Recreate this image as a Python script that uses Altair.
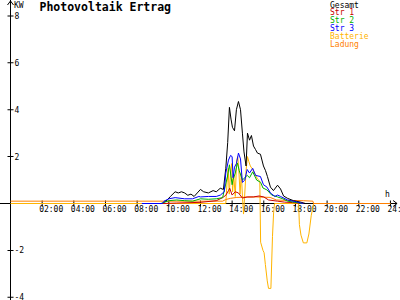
import altair as alt
import pandas as pd

# ---------------- data (hours of day, kW) ----------------
GESAMT_H = [9.6, 9.7, 9.9, 10.1, 10.4, 10.6, 10.8, 11.0, 11.2, 11.4, 11.6, 11.8, 12.0, 12.2, 12.5,
            12.8, 13.0, 13.25, 13.45, 13.6, 13.72, 13.83, 13.93, 14.02, 14.15, 14.27, 14.40, 14.53,
            14.65, 14.75, 14.88, 14.97, 15.1, 15.22, 15.35, 15.48, 15.6, 15.79, 15.98, 16.11, 16.23,
            16.42, 16.61, 16.87, 17.06, 17.25, 17.5, 17.88, 18.32, 18.64]
GESAMT_V = [0.0, 0.05, 0.15, 0.3, 0.5, 0.45, 0.5, 0.45, 0.35, 0.4, 0.3, 0.45, 0.6, 0.5, 0.45,
            0.55, 0.5, 0.65, 0.6, 1.5, 2.6, 4.1, 3.6, 3.25, 3.1, 4.0, 4.35, 4.0,
            3.0, 2.2, 1.6, 3.0, 2.7, 2.9, 2.45, 2.3, 2.15, 2.1, 1.6, 1.4, 1.15,
            0.7, 0.55, 0.78, 0.62, 0.32, 0.22, 0.12, 0.06, 0.0]

STR1_H = [9.6, 10.5, 12.0, 13.0, 13.4, 13.6, 13.77, 13.85, 14.0, 14.2, 14.4, 14.65, 14.95, 15.35,
          15.7, 16.0, 16.3, 16.87, 17.3, 17.8, 18.5]
STR1_V = [0.0, 0.02, 0.05, 0.12, 0.25, 0.35, 0.55, 0.65, 0.36, 0.5, 0.45, 0.23, 0.28, 0.28,
          0.32, 0.28, 0.15, 0.1, 0.06, 0.04, 0.0]

STR2_H = [9.5, 9.7, 10.0, 10.5, 11.0, 11.5, 12.0, 12.5, 13.0, 13.4, 13.7, 13.83, 14.0, 14.05, 14.2,
          14.33, 14.45, 14.65, 14.95, 15.1, 15.3, 15.55, 15.8, 15.95, 16.2, 16.5, 16.87, 17.2, 17.5,
          18.2, 18.4]
STR2_V = [0.0, 0.05, 0.12, 0.15, 0.12, 0.1, 0.2, 0.18, 0.2, 0.25, 1.13, 1.65, 0.8, 1.0, 1.3,
          1.73, 1.4, 1.0, 1.2, 1.1, 1.35, 1.0, 0.9, 0.66, 0.58, 0.36, 0.28, 0.2, 0.1,
          0.03, 0.0]

STR3_H = [8.3, 9.6, 9.7, 10.0, 10.4, 11.0, 11.5, 11.9, 12.0, 12.5, 13.0, 13.26, 13.5, 13.6, 13.77,
          13.9, 14.0, 14.06, 14.15, 14.27, 14.40, 14.53, 14.65, 14.8, 14.95, 15.1, 15.3, 15.48,
          15.79, 15.98, 16.2, 16.42, 16.7, 16.87, 17.06, 17.5, 18.0, 18.5]
STR3_V = [0.0, 0.0, 0.1, 0.2, 0.25, 0.2, 0.2, 0.3, 0.28, 0.3, 0.3, 0.36, 0.5, 1.3, 1.85,
          2.05, 2.0, 1.1, 1.55, 1.7, 2.15, 1.9, 0.9, 1.0, 1.45, 1.3, 1.5, 1.2,
          1.15, 0.8, 0.7, 0.45, 0.3, 0.36, 0.3, 0.15, 0.08, 0.0]

BATT_H = [0.0, 13.6, 13.68, 13.75, 13.82, 13.9, 13.97, 14.03, 14.1, 14.2, 14.28, 14.35, 14.42, 14.5,
          14.58, 14.66, 14.72, 14.78, 14.88, 14.97, 15.05, 15.15, 15.3, 15.45, 15.6, 15.75, 15.8,
          15.95, 16.02, 16.1, 16.22, 16.3, 16.45, 16.55, 16.62, 16.68, 18.2, 18.25, 18.35, 18.5,
          18.72, 18.85, 19.0, 19.15, 24.0]
BATT_V = [0.0, 0.0, 0.9, 1.5, 0.4, 1.3, 1.7, 0.5, 1.2, 0.3, 1.8, 2.0, 1.5, 0.4,
          1.3, 0.2, -0.45, 0.2, 1.4, 2.0, 1.8, 1.6, 1.45, 1.25, 1.05, 0.95, -1.65,
          -2.0, -2.1, -2.6, -3.3, -3.62, -3.62, -1.4, -0.4, 0.0, 0.0, -0.9, -1.35, -1.68,
          -1.68, -1.3, -0.5, 0.0, 0.0]

LADUNG_H = [0.0, 13.4, 13.6, 13.9, 14.3, 15.5, 16.4, 16.8, 17.5, 18.5, 19.1, 19.15, 24.0]
LADUNG_V = [0.1, 0.1, 0.17, 0.22, 0.26, 0.28, 0.26, 0.15, 0.13, 0.12, 0.1, 0.0, 0.0]

Y_TICKS = [8, 6, 4, 2, -2, -4]
X_TICKS = [2, 4, 6, 8, 10, 12, 14, 16, 18, 20, 22, 24]
X_LABELS = ["02:00", "04:00", "06:00", "08:00", "10:00", "12:00", "14:00", "16:00",
            "18:00", "20:00", "22:00", "24:00"]

TITLE = "Photovoltaik Ertrag"
LEGEND_NAMES = ["Gesamt", "Str 1", "Str 2", "Str 3", "Batterie", "Ladung"]
LEGEND_COLORS = ["#000000", "#c80000", "#00b000", "#0000ff", "#ffb400", "#ff8000"]

X_DOMAIN = [-0.6633, 24.605]
Y_DOMAIN = [-4.115, 8.678]
X_AXIS_END = 24.42
Y_AXIS_TOP = 8.635

FONT = "DejaVu Sans Mono"

xs = alt.Scale(domain=X_DOMAIN, nice=False, zero=False)
ys = alt.Scale(domain=Y_DOMAIN, nice=False, zero=False)


def X(f="h"):
    return alt.X(f"{f}:Q", scale=xs, axis=None)


def Y(f="v"):
    return alt.Y(f"{f}:Q", scale=ys, axis=None)


def line(h, v, color):
    df = pd.DataFrame({"h": h, "v": v, "i": list(range(len(h)))})
    return alt.Chart(df).mark_line(color=color, strokeWidth=1).encode(
        x=X(), y=Y(), order=alt.Order("i:Q"))


yaxis = alt.Chart(pd.DataFrame({"h": [0.0], "v": [Y_DOMAIN[0]], "v2": [Y_DOMAIN[1]]})).mark_rule(
    color="black", strokeWidth=1).encode(x=X(), y=Y(), y2="v2:Q")
xaxis = alt.Chart(pd.DataFrame({"h": [X_DOMAIN[0]], "h2": [X_AXIS_END], "v": [0.0]})).mark_rule(
    color="black", strokeWidth=1).encode(x=X(), x2="h2:Q", y=Y())

ytick_df = pd.DataFrame({"h": [0.0] * len(Y_TICKS), "v": Y_TICKS, "t": [str(t) for t in Y_TICKS]})
yticks = alt.Chart(ytick_df).mark_tick(orient="horizontal", size=6, thickness=1, color="black",
                                       opacity=1).encode(x=X(), y=Y())
ylabels = alt.Chart(ytick_df).mark_text(font=FONT, fontSize=8, align="left", baseline="alphabetic",
                                        dx=4, dy=3, color="black").encode(x=X(), y=Y(), text="t:N")

xtick_df = pd.DataFrame({"h": X_TICKS, "v": [0.0] * len(X_TICKS), "t": X_LABELS})
xticks = alt.Chart(xtick_df).mark_tick(orient="vertical", size=6, thickness=1, color="black",
                                       opacity=1).encode(x=X(), y=Y())
xlabels = alt.Chart(xtick_df).mark_text(font=FONT, fontSize=8, align="left", baseline="alphabetic",
                                        dx=-3, dy=8, color="black").encode(x=X(), y=Y(), text="t:N")

yarrow = alt.Chart(pd.DataFrame({"h": [0.0], "v": [Y_AXIS_TOP]})).mark_point(
    shape="M-1,1.33L0,0L1,1.33", size=36, filled=False, color="black", strokeWidth=1,
    opacity=1).encode(x=X(), y=Y())
xarrow = alt.Chart(pd.DataFrame({"h": [X_AXIS_END], "v": [0.0]})).mark_point(
    shape="M-1.33,-1L0,0L-1.33,1", size=36, filled=False, color="black", strokeWidth=1,
    opacity=1).encode(x=X(), y=Y())

layers = [yaxis, xaxis, yticks, xticks, ylabels, xlabels,
          line(BATT_H, BATT_V, LEGEND_COLORS[4]),
          line(LADUNG_H, LADUNG_V, LEGEND_COLORS[5]),
          line(GESAMT_H, GESAMT_V, LEGEND_COLORS[0]),
          line(STR1_H, STR1_V, LEGEND_COLORS[1]),
          line(STR2_H, STR2_V, LEGEND_COLORS[2]),
          line(STR3_H, STR3_V, LEGEND_COLORS[3]),
          yarrow, xarrow]


def label(txt, x, y, size=8, color="black", weight="normal"):
    return alt.Chart(pd.DataFrame({"t": [txt]})).mark_text(
        font=FONT, fontSize=size, fontWeight=weight, align="left", baseline="alphabetic",
        color=color).encode(text="t:N", x=alt.value(x), y=alt.value(y))


layers.append(label(TITLE, 39.5, 11, size=11.5, weight="bold"))
layers.append(label("KW", 14, 8.3))
layers.append(label("h", 385, 197))
for k, (name, col) in enumerate(zip(LEGEND_NAMES, LEGEND_COLORS)):
    layers.append(label(name, 330, 7.5 + 7.9 * k, color=col))

chart = alt.layer(*layers).properties(
    width=400, height=300, autosize=alt.AutoSizeParams(type="none"), padding=0,
    background="white"
).configure_view(strokeWidth=0)

chart.save("out.html", embed_options={"renderer": "svg", "actions": False})
